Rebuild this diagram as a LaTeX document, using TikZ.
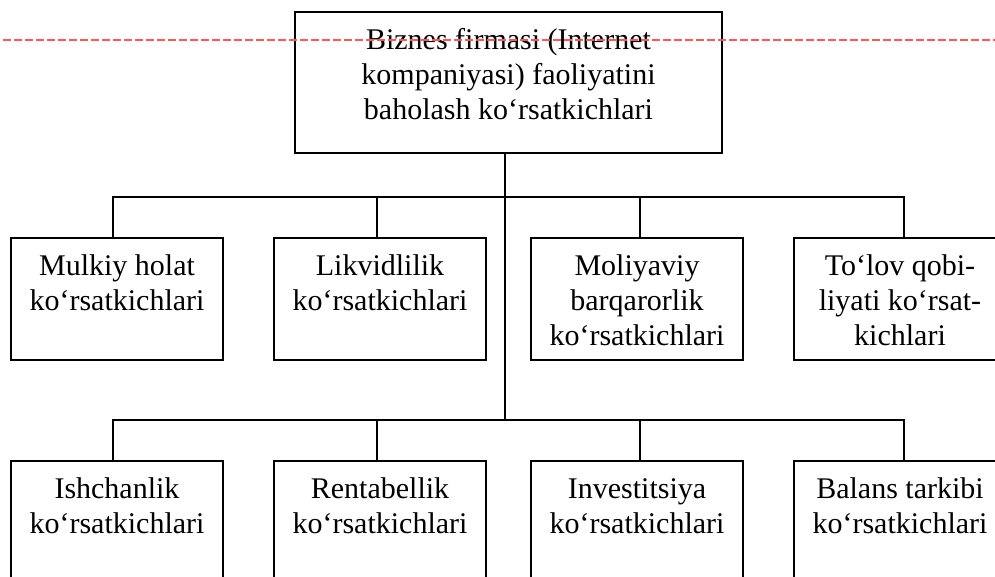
\documentclass[tikz,border=0pt]{standalone}
\usepackage{fontspec}
\setmainfont{Liberation Serif}
\definecolor{guidered}{RGB}{255,85,85}
% text block of a card: fixed size, lines start from the top edge
\newcommand\cardtext[3]{\parbox[c][#2pt][t]{#1pt}{\centering\fontsize{30}{35}\selectfont\rule{0pt}{37pt}#3}}
\begin{document}
\begin{tikzpicture}[x=1pt,y=-1pt,
  card/.style={draw, line width=1.8pt, inner sep=0pt, outer sep=0pt, anchor=center},
  link/.style={line width=1.8pt},
  guide/.style={draw=guidered, line width=1.3pt, dash pattern=on 7.5pt off 3.5pt, dash phase=-3pt}]
\useasboundingbox (0,0) rectangle (995,576);
\begin{scope}
\clip (0,0) rectangle (995,576);

% root
\node[card] (top) at (508.5,82.5) {\cardtext{427}{141}{Biznes firmasi (Internet\\kompaniyasi) faoliyatini\\baholash ko‘rsatkichlari}};

% first row
\node[card] (b1) at (117,299) {\cardtext{212}{122}{Mulkiy holat\\ko‘rsatkichlari}};
\node[card] (b2) at (380,299) {\cardtext{212}{122}{Likvidlilik\\ko‘rsatkichlari}};
\node[card] (b3) at (637,299) {\cardtext{212}{122}{Moliyaviy\\barqarorlik\\ko‘rsatkichlari}};
\node[card] (b4) at (900,299) {\cardtext{212}{122}{To‘lov qobi-\\liyati ko‘rsat-\\kichlari}};

% second row
\node[card] (c1) at (117,522) {\cardtext{212}{122}{Ishchanlik\\ko‘rsatkichlari}};
\node[card] (c2) at (380,522) {\cardtext{212}{122}{Rentabellik\\ko‘rsatkichlari}};
\node[card] (c3) at (637,522) {\cardtext{212}{122}{Investitsiya\\ko‘rsatkichlari}};
\node[card] (c4) at (900,522) {\cardtext{212}{122}{Balans tarkibi\\ko‘rsatkichlari}};

% trunk and buses
\coordinate (t0) at ([xshift=-3.5pt]top.south);
\coordinate (bus1) at (t0 |- 0,197);
\coordinate (bus2) at (t0 |- 0,420);
\draw[link] (t0) -- (bus2);
\foreach \n/\dx in {b1/-4,b2/-3,b3/3,b4/4} \draw[link] (bus1) -| ([xshift=\dx pt]\n.north);
\foreach \n/\dx in {c1/-4,c2/-3,c3/3,c4/4} \draw[link] (bus2) -| ([xshift=\dx pt]\n.north);

% dashed guide line across the page
\coordinate (gl) at (0,40);
\coordinate (gr) at (995,40);
\draw[guide] (gl) -- (gr);
\end{scope}
\end{tikzpicture}
\end{document}
